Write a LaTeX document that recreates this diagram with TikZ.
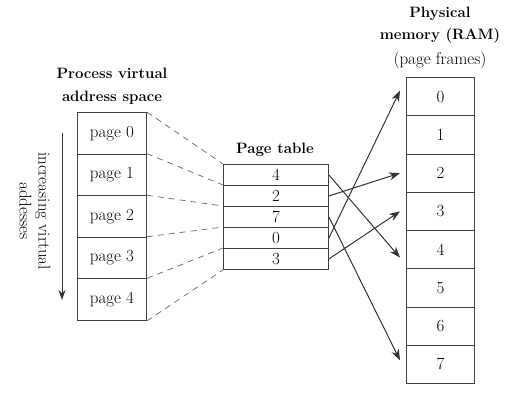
\documentclass[tikz,border=0pt]{standalone}
\usetikzlibrary{arrows.meta}
\begin{document}
\begin{tikzpicture}[x=1pt,y=-1pt,
  every node/.style={font=\fontsize{17}{19}\selectfont, text=black},
  ttl/.style={font=\fontsize{15}{22.5}\selectfont\bfseries, align=center, inner sep=0pt},
  vcell/.style={draw=black!75, line width=0.9pt, minimum width=69pt, minimum height=41.6pt, inner sep=0pt, anchor=north west},
  tcell/.style={draw=black!75, line width=0.9pt, minimum width=105pt, minimum height=21pt, inner sep=0pt, anchor=north west},
  rcell/.style={draw=black!75, line width=0.9pt, minimum width=68pt, minimum height=38.25pt, inner sep=0pt, anchor=north west},
  dsh/.style={draw=black!60, dash pattern=on 6pt off 5pt, line width=0.7pt},
  arr/.style={draw=black!80, line width=1pt, -{Stealth[length=11pt,width=8pt]}}]
\useasboundingbox (0,0) rectangle (519,418);
% titles
\node[ttl] (tv) at (112,86) {Process virtual\\address space};
\node[ttl] (tt) at (275,150) {Page table};
\node[ttl] (tr) at (440,25) {Physical\\memory (RAM)};
\node[inner sep=0pt] (trf) at (440,60) {(page frames)};
% virtual pages
\foreach \i in {0,...,4} {
  \node[vcell] (v\i) at (77,{112+41.6*\i}) {page \i};
}
% page table
\foreach \v [count=\k from 0] in {4,2,7,0,3} {
  \node[tcell] (t\k) at (223,{164+21*\k}) {\v};
}
% RAM
\foreach \i in {0,...,7} {
  \node[rcell] (r\i) at (406,{77+38.25*\i}) {\i};
}
% dashed lines
\foreach \i in {0,...,4} {
  \draw[dsh] (v\i.north east) -- (t\i.north west);
}
\draw[dsh] (v4.south east) -- (t4.south west);
% increasing arrow
\coordinate (ia) at (62,133);
\coordinate (ib) at (62,300);
\draw[draw=black!80, line width=1pt, -{Stealth[length=10pt,width=7pt]}] (ia) -- (ib);
\node[rotate=-90, align=center, inner sep=0pt] (lab) at (35,211) {increasing virtual\\addesses};
% mapping arrows
\draw[arr] (t0.east) -- ([xshift=-6pt,yshift=-8pt]r4.west);
\draw[arr] (t1.east) -- ([xshift=-6pt]r2.west);
\draw[arr] (t2.east) -- ([xshift=-6pt,yshift=4pt]r7.west);
\draw[arr] (t3.east) -- ([xshift=-6pt,yshift=6pt]r0.west);
\draw[arr] (t4.east) -- ([xshift=-6pt]r3.west);
\end{tikzpicture}
\end{document}
